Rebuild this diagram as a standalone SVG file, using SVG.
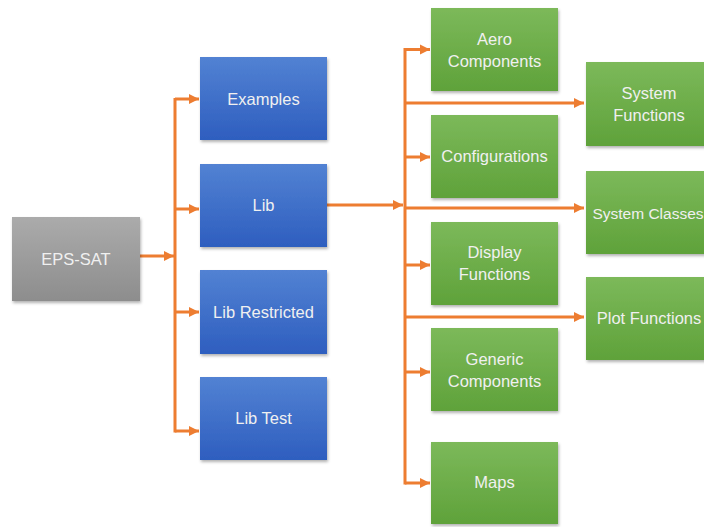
<svg xmlns="http://www.w3.org/2000/svg" width="704" height="527" viewBox="0 0 704 527">
  <defs>
    <linearGradient id="gGray" x1="0" y1="0" x2="0" y2="1">
      <stop offset="0" stop-color="#ababab"/>
      <stop offset="1" stop-color="#8d8d8d"/>
    </linearGradient>
    <linearGradient id="gBlue" x1="0" y1="0" x2="0" y2="1">
      <stop offset="0" stop-color="#5282d3"/>
      <stop offset="1" stop-color="#2e5ebf"/>
    </linearGradient>
    <linearGradient id="gGreen" x1="0" y1="0" x2="0" y2="1">
      <stop offset="0" stop-color="#7cb95a"/>
      <stop offset="1" stop-color="#5fa23a"/>
    </linearGradient>
    <filter id="shadow" x="-10%" y="-10%" width="125%" height="130%">
      <feDropShadow dx="1" dy="2" stdDeviation="1.5" flood-color="#000" flood-opacity="0.3"/>
    </filter>
    <marker id="arrow" viewBox="0 0 10 10" refX="10" refY="5" markerWidth="3.4" markerHeight="3.4" orient="auto" markerUnits="strokeWidth">
      <path d="M0,0 L10,5 L0,10 z" fill="#ed7d31"/>
    </marker>
  </defs>
  <style>
    .box { filter: url(#shadow); }
    .gray { fill: url(#gGray); }
    .blue { fill: url(#gBlue); }
    .green { fill: url(#gGreen); }
    .lbl { font-family: "Liberation Sans", Arial, sans-serif; font-size: 16.5px; fill: #f0f0f0; text-anchor: middle; dominant-baseline: central; }
    .tight { font-size: 15.5px; }
    .wire { fill: none; stroke: #ed7d31; stroke-width: 3; }
    .arr { marker-end: url(#arrow); }
  </style>

  <!-- connectors -->
  <g id="connectors">
    <!-- EPS-SAT to left bus -->
    <line class="wire arr" x1="140" y1="256" x2="174" y2="256"/>
    <line class="wire" x1="175" y1="98" x2="175" y2="432.5"/>
    <line class="wire arr" x1="175" y1="99" x2="199" y2="99"/>
    <line class="wire arr" x1="175" y1="209" x2="199" y2="209"/>
    <line class="wire arr" x1="175" y1="312" x2="199" y2="312"/>
    <line class="wire arr" x1="175" y1="431" x2="199" y2="431"/>
    <!-- Lib to right bus -->
    <line class="wire arr" x1="327" y1="205" x2="403" y2="205"/>
    <line class="wire" x1="405" y1="48" x2="405" y2="484.5"/>
    <line class="wire arr" x1="405" y1="49.5" x2="430" y2="49.5"/>
    <line class="wire arr" x1="405" y1="157" x2="430" y2="157"/>
    <line class="wire arr" x1="405" y1="265" x2="430" y2="265"/>
    <line class="wire arr" x1="405" y1="372" x2="430" y2="372"/>
    <line class="wire arr" x1="405" y1="483" x2="430" y2="483"/>
    <line class="wire arr" x1="405" y1="103" x2="584" y2="103"/>
    <line class="wire arr" x1="405" y1="208" x2="584" y2="208"/>
    <line class="wire arr" x1="405" y1="317" x2="584" y2="317"/>
  </g>

  <g id="eps-sat">
    <rect class="box gray" x="12" y="217" width="128" height="84"/>
    <text class="lbl" x="76" y="259">EPS-SAT</text>
  </g>

  <g id="examples">
    <rect class="box blue" x="200" y="57" width="127" height="83"/>
    <text class="lbl" x="263.5" y="99">Examples</text>
  </g>
  <g id="lib">
    <rect class="box blue" x="200" y="164" width="127" height="83"/>
    <text class="lbl" x="263.5" y="205">Lib</text>
  </g>
  <g id="lib-restricted">
    <rect class="box blue" x="200" y="270" width="127" height="84"/>
    <text class="lbl" x="263.5" y="312">Lib Restricted</text>
  </g>
  <g id="lib-test">
    <rect class="box blue" x="200" y="377" width="127" height="83"/>
    <text class="lbl" x="263.5" y="418">Lib Test</text>
  </g>

  <g id="aero-components">
    <rect class="box green" x="431" y="8" width="127" height="83"/>
    <text class="lbl" x="494.5" y="39">Aero</text>
    <text class="lbl" x="494.5" y="61">Components</text>
  </g>
  <g id="configurations">
    <rect class="box green" x="431" y="115" width="127" height="83"/>
    <text class="lbl" x="494.5" y="156">Configurations</text>
  </g>
  <g id="display-functions">
    <rect class="box green" x="431" y="222" width="127" height="83"/>
    <text class="lbl" x="494.5" y="252">Display</text>
    <text class="lbl" x="494.5" y="274">Functions</text>
  </g>
  <g id="generic-components">
    <rect class="box green" x="431" y="328" width="127" height="83"/>
    <text class="lbl" x="494.5" y="359">Generic</text>
    <text class="lbl" x="494.5" y="381">Components</text>
  </g>
  <g id="maps">
    <rect class="box green" x="431" y="442" width="127" height="82"/>
    <text class="lbl" x="494.5" y="482">Maps</text>
  </g>

  <g id="system-functions">
    <rect class="box green" x="586" y="62" width="127" height="84"/>
    <text class="lbl" x="649" y="93">System</text>
    <text class="lbl" x="649" y="115">Functions</text>
  </g>
  <g id="system-classes">
    <rect class="box green" x="586" y="171" width="127" height="83"/>
    <text class="lbl tight" x="648" y="213">System Classes</text>
  </g>
  <g id="plot-functions">
    <rect class="box green" x="586" y="277" width="127" height="83"/>
    <text class="lbl" x="649" y="318">Plot Functions</text>
  </g>
</svg>
